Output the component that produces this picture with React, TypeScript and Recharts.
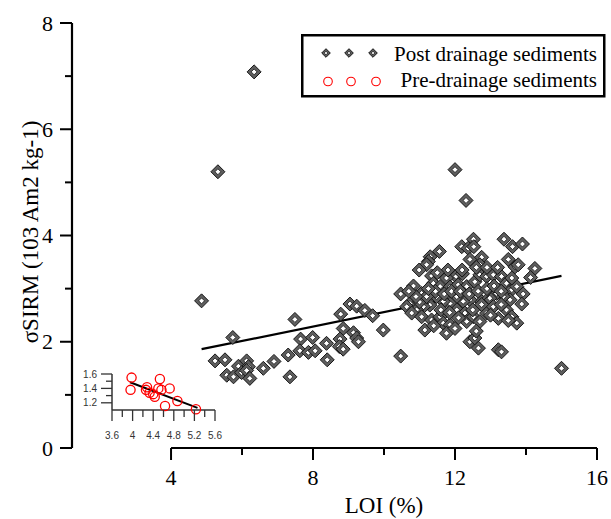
import { ScatterChart, Scatter, XAxis, YAxis, ReferenceLine, Legend } from "recharts"

// post drainage sediments (LOI %, sigma SIRM)
const postLoi = [
  6.34, 5.32, 4.86, 5.74, 7.49,
  5.24, 5.52, 5.9, 6.13, 6.18, 5.57, 5.76, 5.99, 6.13, 6.22, 6.6, 6.9, 7.3, 7.35,
  7.65, 7.99, 7.63, 7.87, 8.06, 8.38, 8.4, 8.78, 9.04, 9.23, 9.46, 9.68, 8.85, 9.14, 9.23, 8.76, 8.74, 8.85, 9.28, 9.98,
  12.0, 12.31, 12.52, 12.19, 12.37, 12.53, 13.38, 13.62, 13.9, 11.56, 11.3, 11.25, 11.2,
  12.42, 12.75, 12.7, 13.5, 13.69, 13.78, 10.99, 11.34, 12.03, 12.21, 14.25, 14.13,
  10.47, 10.83, 11.06, 10.73, 10.64, 11.39, 11.58, 11.76, 11.86, 12.09, 12.33, 12.56, 12.7, 12.89, 13.08, 13.31,
  13.45, 13.6, 13.74, 13.92, 13.88, 13.55, 13.36, 13.17, 12.98, 12.8, 12.61, 12.42, 12.23, 12.05, 11.86, 11.67,
  11.48, 11.29, 11.11, 10.92, 10.78, 11.06, 11.34, 11.15, 11.58, 11.67, 11.86, 11.76, 12.05, 12.28, 12.33, 12.52,
  12.7, 12.89, 13.08, 13.22, 13.45, 13.6, 13.74, 12.42, 12.56, 12.66, 13.22, 13.31, 10.47, 15.0,
  11.0, 11.2, 11.45, 11.7, 11.9, 12.15, 12.4, 12.65, 12.9, 13.1, 13.3, 11.6, 11.85, 12.1, 12.5, 12.75,
  13.0, 13.3, 13.5, 11.4, 12.0, 12.6, 12.2, 12.6, 12.9, 11.8, 11.5, 13.2, 13.6, 10.9, 10.7, 11.25,
]
const postSirm = [
  7.08, 5.2, 2.77, 2.08, 2.42,
  1.64, 1.66, 1.54, 1.64, 1.53, 1.37, 1.34, 1.42, 1.46, 1.31, 1.5, 1.63, 1.75, 1.34,
  2.05, 2.08, 1.83, 1.8, 1.83, 1.97, 1.66, 2.52, 2.71, 2.67, 2.59, 2.49, 2.25, 2.17, 2.07, 2.05, 1.91, 1.86, 2.0, 2.22,
  5.24, 4.66, 3.93, 3.79, 3.76, 3.79, 3.93, 3.79, 3.84, 3.7, 3.6, 3.51, 3.45,
  3.55, 3.59, 3.45, 3.55, 3.41, 3.45, 3.35, 3.24, 3.23, 3.28, 3.38, 3.21,
  2.9, 3.05, 2.91, 2.72, 2.66, 3.1, 3.04, 3.2, 3.03, 3.07, 3.04, 3.13, 3.26, 3.23, 3.26, 3.23,
  3.1, 2.98, 3.04, 2.9, 2.71, 2.79, 2.85, 2.91, 2.82, 2.91, 2.85, 2.79, 2.76, 2.85, 2.72, 2.76,
  2.85, 2.69, 2.66, 2.6, 2.54, 2.47, 2.41, 2.22, 2.47, 2.35, 2.32, 2.16, 2.6, 2.54, 2.38, 2.47,
  2.38, 2.54, 2.66, 2.44, 2.6, 2.47, 2.35, 2.0, 2.07, 1.88, 1.85, 1.81, 1.73, 1.5,
  2.75, 2.85, 2.95, 2.9, 2.95, 2.95, 2.9, 2.95, 3.0, 3.05, 2.95, 2.6, 2.55, 2.45, 2.6, 2.7,
  2.5, 2.7, 2.4, 2.3, 2.25, 2.2, 3.35, 3.4, 3.4, 3.35, 3.3, 3.4, 3.2, 2.85, 2.95, 3.0,
]

// pre-drainage sediments (inset)
const preLoi = [3.98, 3.96, 4.28, 4.26, 4.53, 4.5, 4.56, 4.4, 4.43, 4.33, 4.72, 4.63, 4.87, 5.23]
const preSirm = [1.55, 1.38, 1.415, 1.38, 1.53, 1.4, 1.38, 1.32, 1.285, 1.34, 1.4, 1.155, 1.225, 1.11]

// fitted lines (end points)
const postFitLoi = [4.86, 15.0]
const postFitSirm = [1.86, 3.24]
const preFitLoi = [3.95, 5.26]
const preFitSirm = [1.485, 1.13]

const xTicks = [4, 6, 8, 10, 12, 14, 16]
const yTicks = [0, 1, 2, 3, 4, 5, 6, 7, 8]
const insetXTicks = [3.6, 3.8, 4.0, 4.2, 4.4, 4.6, 4.8, 5.0, 5.2, 5.4, 5.6]
const insetYTicks = [1.2, 1.3, 1.4, 1.5, 1.6]
const legendLabels = ["Post drainage sediments", "Pre-drainage sediments"]
const xTitle = "LOI (%)"
const yTitle = "σSIRM (103 Am2 kg-1)"

const postData = postLoi.map((x, i) => ({ x, y: postSirm[i] }))
const preData = preLoi.map((x, i) => ({ x, y: preSirm[i] }))

const SERIF = "'Liberation Serif', 'Times New Roman', serif"
const SANS = "'Liberation Sans', Arial, sans-serif"

const diamond = (cx: number, cy: number, r: number) =>
  `${cx},${cy - r} ${cx + r},${cy} ${cx},${cy + r} ${cx - r},${cy}`

const Diamond = ({ cx, cy, r = 7 }: any) => (
  <g>
    <polygon points={diamond(cx, cy, r)} fill="#5e5e5e" stroke="#151515" strokeWidth={1} />
    <polygon points={diamond(cx, cy, r * 0.42)} fill="#fff" stroke="#151515" strokeWidth={0.8} />
  </g>
)

const RedCircle = ({ cx, cy }: any) => (
  <circle cx={cx} cy={cy} r={4.6} fill="none" stroke="#ff0000" strokeWidth={1.3} />
)

const XTick = (props: any) => {
  const { x, y, payload } = props
  const major = payload.value % 4 === 0
  return (
    <g>
      <line x1={x} x2={x} y1={y} y2={y + (major ? 12 : 7)} stroke="#000" strokeWidth={2} />
      {major && (
        <text x={x} y={y + 37} textAnchor="middle" fontFamily={SERIF} fontSize={22} fill="#000">
          {payload.value}
        </text>
      )}
    </g>
  )
}

const YTick = (props: any) => {
  const { x, y, payload } = props
  const major = payload.value % 2 === 0
  return (
    <g>
      <line x1={x - (major ? 12 : 7)} x2={x} y1={y} y2={y} stroke="#000" strokeWidth={2} />
      {major && (
        <text x={x - 19} y={y + 7.5} textAnchor="end" fontFamily={SERIF} fontSize={22} fill="#000">
          {payload.value}
        </text>
      )}
    </g>
  )
}

const InsetXTick = (props: any) => {
  const { x, y, payload } = props
  const major = Math.round(payload.value * 10) % 4 === 0
  return (
    <g>
      <line x1={x} x2={x} y1={y} y2={y + (major ? 11 : 7)} stroke="#333" strokeWidth={1.3} />
      {major && (
        <text x={x} y={y + 29} textAnchor="middle" fontFamily={SANS} fontSize={10} fill="#333">
          {Number(payload.value.toFixed(1))}
        </text>
      )}
    </g>
  )
}

const InsetYTick = (props: any) => {
  const { x, y, payload } = props
  const major = Math.round(payload.value * 10) % 2 === 0
  return (
    <g>
      <line x1={x - (major ? 11 : 6)} x2={x} y1={y} y2={y} stroke="#333" strokeWidth={1.3} />
      {major && (
        <text x={x - 15} y={y + 3.5} textAnchor="end" fontFamily={SANS} fontSize={10} fill="#333">
          {payload.value.toFixed(1)}
        </text>
      )}
    </g>
  )
}

const renderLegend = () => (
  <svg width={306} height={66} style={{ display: "block" }}>
    <rect x={1.25} y={1.25} width={302} height={61} fill="#fff" stroke="#000" strokeWidth={2.5} />
    {[25, 48, 72].map((cx) => (
      <Diamond key={cx} cx={cx} cy={19} r={4.3} />
    ))}
    {[27, 50, 75].map((cx) => (
      <circle key={cx} cx={cx} cy={47.5} r={4.3} fill="none" stroke="#ff0000" strokeWidth={1.1} />
    ))}
    <text x={296} y={26.5} textAnchor="end" fontFamily={SERIF} fontSize={21} fill="#000">
      {legendLabels[0]}
    </text>
    <text x={296} y={53} textAnchor="end" fontFamily={SERIF} fontSize={21} fill="#000">
      {legendLabels[1]}
    </text>
  </svg>
)

export default function App() {
  return (
    <div style={{ position: "absolute", left: 0, top: 0, width: 611, height: 519, background: "#fff" }}>
      <ScatterChart width={611} height={519} margin={{ top: 23, right: 14, bottom: 31, left: 12 }}>
        <XAxis
          type="number"
          dataKey="x"
          domain={[1.21, 16]}
          ticks={xTicks}
          axisLine={false}
          tickLine={false}
          tickSize={0}
          tickMargin={0}
          height={40}
          tick={<XTick />}
          interval={0}
          allowDataOverflow
          label={{
            content: () => (
              <text x={384} y={513} textAnchor="middle" fontFamily={SERIF} fontSize={23} fill="#000">
                {xTitle}
              </text>
            ),
          }}
        />
        <YAxis
          type="number"
          dataKey="y"
          domain={[0, 8]}
          ticks={yTicks}
          axisLine={{ stroke: "#000", strokeWidth: 2.2 }}
          tickLine={false}
          tickSize={0}
          tickMargin={0}
          width={60}
          tick={<YTick />}
          interval={0}
          label={{
            content: () => (
              <text
                x={30}
                y={232}
                transform="rotate(-90 30 232)"
                textAnchor="middle"
                dominantBaseline="central"
                fontFamily={SERIF}
                fontSize={23}
                fill="#000"
              >
                {yTitle}
              </text>
            ),
          }}
        />
        <ReferenceLine
          segment={[{ x: xTicks[0], y: 0 }, { x: xTicks[xTicks.length - 1], y: 0 }]}
          stroke="#000"
          strokeWidth={2.2}
          ifOverflow="visible"
        />
        <Legend
          content={renderLegend}
          layout="vertical"
          align="center"
          verticalAlign="middle"
          wrapperStyle={{ left: 301, top: 34, width: 306, height: 66 }}
        />
        <Scatter data={postData} shape={<Diamond />} isAnimationActive={false} />
        <ReferenceLine
          segment={[
            { x: postFitLoi[0], y: postFitSirm[0] },
            { x: postFitLoi[1], y: postFitSirm[1] },
          ]}
          stroke="#000"
          strokeWidth={2.2}
          ifOverflow="visible"
        />
      </ScatterChart>

      <div style={{ position: "absolute", left: 60, top: 360 }}>
        <ScatterChart width={170} height={90} margin={{ top: 14, right: 15, bottom: 10, left: 12 }}>
          <XAxis
            type="number"
            dataKey="x"
            domain={[3.6, 5.6]}
            ticks={insetXTicks}
            axisLine={{ stroke: "#333", strokeWidth: 1.5 }}
            tickLine={false}
            tickSize={0}
            tickMargin={0}
            height={30}
            tick={<InsetXTick />}
            interval={0}
          />
          <YAxis
            type="number"
            dataKey="y"
            domain={[1.1, 1.6]}
            ticks={insetYTicks}
            axisLine={{ stroke: "#333", strokeWidth: 1.5 }}
            tickLine={false}
            tickSize={0}
            tickMargin={0}
            width={40}
            tick={<InsetYTick />}
            interval={0}
          />
          <Scatter data={preData} shape={<RedCircle />} isAnimationActive={false} />
          <ReferenceLine
            segment={[
              { x: preFitLoi[0], y: preFitSirm[0] },
              { x: preFitLoi[1], y: preFitSirm[1] },
            ]}
            stroke="#000"
            strokeWidth={2}
            ifOverflow="visible"
          />
        </ScatterChart>
      </div>
    </div>
  )
}
